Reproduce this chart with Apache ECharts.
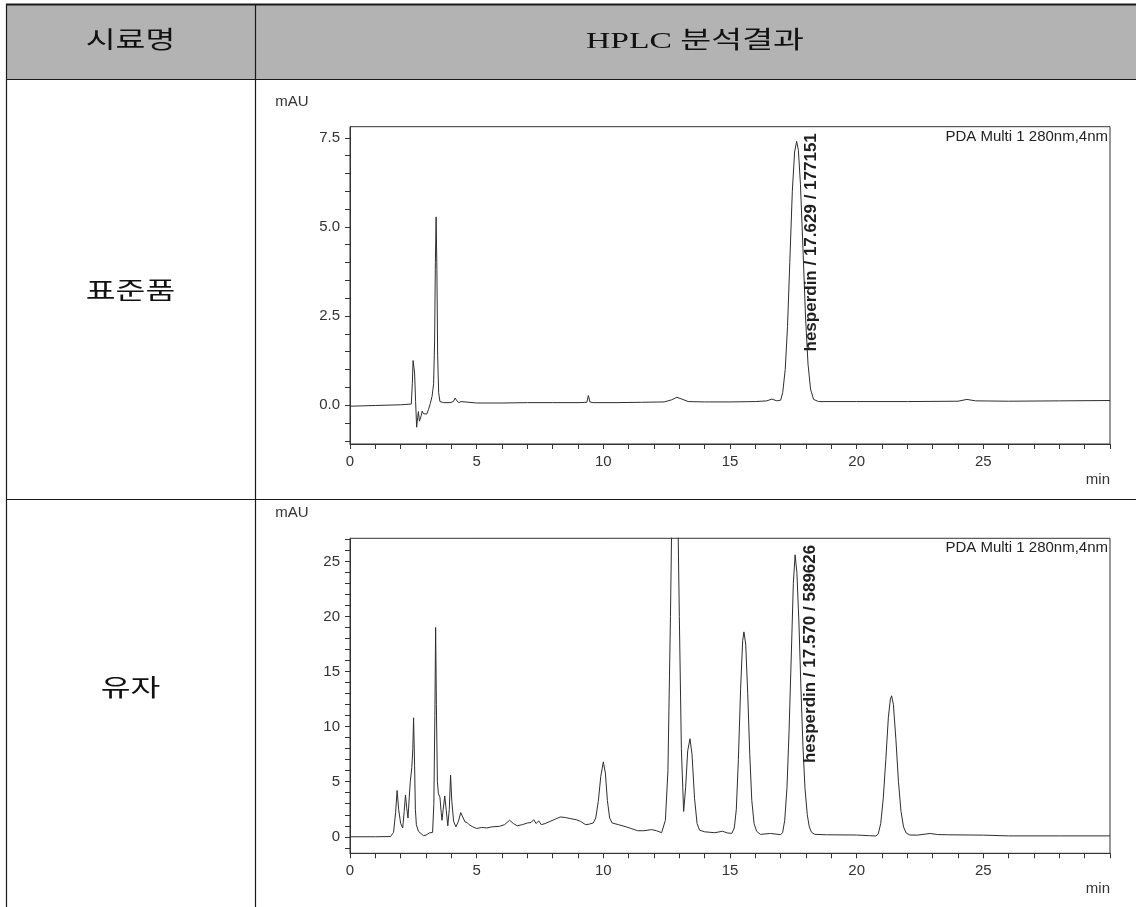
<!DOCTYPE html>
<html>
<head>
<meta charset="utf-8">
<script src="https://cdn.jsdelivr.net/npm/echarts@6/dist/echarts.min.js"></script>
<style>html,body{margin:0;padding:0;background:#fff}#c{width:1136px;height:907px}</style>
</head>
<body>
<div id="c"></div>
<script>
// ---------- data ----------
const headerLabels = ['시료명', 'HPLC 분석결과'];
const sampleNames = ['표준품', '유자'];
const channelLabel = 'PDA Multi 1 280nm,4nm';
const peakLabels = ['hesperdin / 17.629 / 177151', 'hesperdin / 17.570 / 589626'];
const peakTimes = [17.629, 17.570];

// standard (표준품) chromatogram: time (min), signal (mAU)
const stdTime = [0.0, 1.0, 2.0, 2.42, 2.46, 2.49, 2.52, 2.55, 2.59, 2.63, 2.67, 2.70, 2.74, 2.77, 2.81, 2.85, 2.90, 2.96, 3.03, 3.10, 3.17, 3.24, 3.30, 3.34, 3.37, 3.40, 3.43, 3.46, 3.50, 3.55, 3.70, 3.95, 4.08, 4.15, 4.22, 4.30, 4.38, 4.45, 5.0, 6.0, 7.0, 8.0, 9.0, 9.35, 9.41, 9.47, 9.60, 10.5, 11.5, 12.4, 12.7, 12.9, 13.1, 13.35, 14.0, 15.0, 16.0, 16.45, 16.65, 16.85, 17.0, 17.08, 17.18, 17.27, 17.36, 17.46, 17.55, 17.63, 17.70, 17.78, 17.88, 17.98, 18.08, 18.18, 18.30, 18.5, 20.0, 22.0, 24.0, 24.35, 24.7, 26.0, 28.0, 30.0];
const stdSignal = [-0.03, -0.01, 0.01, 0.03, 0.6, 1.25, 1.3, 0.9, 0.1, -0.62, -0.35, -0.18, -0.45, -0.5, -0.3, -0.17, -0.24, -0.27, -0.25, -0.12, 0.05, 0.25, 0.6, 1.8, 4.0, 5.28, 3.8, 1.4, 0.35, 0.1, 0.07, 0.07, 0.1, 0.2, 0.12, 0.07, 0.1, 0.07, 0.06, 0.06, 0.07, 0.07, 0.07, 0.08, 0.27, 0.09, 0.07, 0.07, 0.08, 0.09, 0.15, 0.22, 0.17, 0.1, 0.09, 0.09, 0.1, 0.12, 0.17, 0.12, 0.14, 0.35, 1.0, 2.2, 4.0, 6.0, 7.1, 7.4, 7.15, 6.2, 4.4, 2.5, 1.15, 0.45, 0.16, 0.1, 0.1, 0.1, 0.11, 0.16, 0.12, 0.11, 0.12, 0.13];

// 유자 chromatogram: time (min), signal (mAU)
const yujaTime = [0.0, 1.0, 1.6, 1.72, 1.80, 1.86, 1.92, 2.00, 2.08, 2.14, 2.19, 2.24, 2.29, 2.34, 2.38, 2.44, 2.48, 2.51, 2.55, 2.58, 2.62, 2.70, 2.80, 2.90, 3.00, 3.06, 3.13, 3.20, 3.26, 3.31, 3.35, 3.38, 3.41, 3.45, 3.49, 3.55, 3.60, 3.63, 3.68, 3.74, 3.80, 3.86, 3.92, 3.97, 4.02, 4.09, 4.18, 4.28, 4.37, 4.45, 4.54, 4.62, 4.70, 4.85, 5.0, 5.2, 5.4, 5.6, 5.9, 6.1, 6.3, 6.45, 6.6, 6.8, 7.0, 7.15, 7.25, 7.35, 7.45, 7.55, 7.7, 7.9, 8.1, 8.3, 8.5, 8.7, 8.93, 9.0, 9.1, 9.3, 9.45, 9.6, 9.7, 9.8, 9.9, 10.0, 10.08, 10.16, 10.25, 10.35, 10.6, 10.9, 11.1, 11.35, 11.6, 11.9, 12.1, 12.3, 12.45, 12.55, 12.65, 12.72, 12.82, 12.92, 13.0, 13.08, 13.17, 13.25, 13.33, 13.42, 13.5, 13.6, 13.7, 13.8, 14.0, 14.4, 14.7, 14.9, 15.07, 15.17, 15.25, 15.33, 15.42, 15.5, 15.55, 15.62, 15.7, 15.78, 15.86, 15.95, 16.05, 16.2, 16.6, 17.0, 17.08, 17.16, 17.25, 17.33, 17.42, 17.5, 17.57, 17.64, 17.72, 17.8, 17.88, 17.96, 18.05, 18.13, 18.22, 18.35, 18.8, 19.5, 20.0, 20.5, 20.76, 20.85, 20.95, 21.05, 21.15, 21.25, 21.33, 21.38, 21.45, 21.55, 21.65, 21.75, 21.85, 21.95, 22.1, 22.4, 22.9, 23.2, 23.6, 25.0, 26.0, 28.0, 30.0];
const yujaSignal = [0.0, 0.0, 0.02, 0.4, 2.2, 4.2, 2.5, 1.2, 0.8, 2.3, 3.8, 2.6, 1.7, 3.6, 5.0, 6.3, 8.0, 10.8, 6.5, 2.5, 1.1, 0.5, 0.3, 0.1, 0.15, 0.05, 0.35, 0.2, 0.4, 3.0, 11.0, 19.0, 12.0, 5.0, 3.9, 3.6, 2.2, 1.5, 2.5, 3.7, 2.4, 1.0, 2.5, 5.6, 3.2, 1.4, 0.9, 1.4, 2.2, 1.8, 1.35, 1.3, 1.1, 0.9, 0.75, 0.85, 0.8, 0.9, 0.95, 1.1, 1.5, 1.2, 1.0, 1.1, 1.25, 1.3, 1.55, 1.2, 1.45, 1.1, 1.2, 1.4, 1.6, 1.8, 1.75, 1.65, 1.55, 1.7, 1.4, 1.1, 1.15, 1.25, 1.7, 3.2, 5.5, 6.8, 5.8, 3.3, 1.7, 1.25, 1.1, 0.9, 0.75, 0.55, 0.55, 0.65, 0.55, 0.37, 1.5, 6.0, 20.0, 32.0, 40.0, 33.0, 20.0, 8.0, 2.3, 4.5, 7.8, 8.9, 7.5, 3.5, 1.2, 0.6, 0.45, 0.37, 0.5, 0.35, 0.3, 0.8, 2.5, 7.0, 13.5, 17.8, 18.6, 17.5, 13.0, 7.5, 3.3, 1.2, 0.5, 0.22, 0.3, 0.19, 0.4, 1.5, 4.5, 9.5, 16.5, 23.0, 25.6, 24.0, 19.5, 13.5, 8.2, 4.4, 2.0, 0.9, 0.4, 0.22, 0.18, 0.17, 0.16, 0.1, 0.07, 0.25, 1.2, 3.5, 7.0, 10.8, 12.5, 12.8, 12.0, 8.8, 5.0, 2.3, 0.9, 0.35, 0.16, 0.15, 0.3, 0.2, 0.18, 0.15, 0.08, 0.08, 0.08];

// axis tick labels
const xMin = 0, xMax = 30, xStep = 5;
const y1Range = [-1.09, 7.81];
const y1Labels = [0.0, 2.5, 5.0, 7.5];
const y1Ticks = [-1.0, -0.5, 0.0, 0.5, 1.0, 1.5, 2.0, 2.5, 3.0, 3.5, 4.0, 4.5, 5.0, 5.5, 6.0, 6.5, 7.0, 7.5];
const y2Range = [-1.5, 27.1];
const y2Labels = [0, 5, 10, 15, 20, 25];
const y2Ticks = [-1, 0, 1, 2, 3, 4, 5, 6, 7, 8, 9, 10, 11, 12, 13, 14, 15, 16, 17, 18, 19, 20, 21, 22, 23, 24, 25, 26, 27];

// ---------- chart ----------
const zip = (a, b) => a.map((t, i) => [t, b[i]]);
const chart = echarts.init(document.getElementById('c'));
const AX = "'Liberation Sans', Arial, sans-serif";
const SERIF = "'Liberation Serif', 'DejaVu Serif', 'Noto Sans CJK KR', serif";
const INK = '#333';
const grids = [
  {left: 350, top: 126.7, width: 760, height: 317.3},
  {left: 350, top: 538.3, width: 760, height: 315}
];

function xAxis(gi) {
  return {
    type: 'value', gridIndex: gi, min: xMin, max: xMax, interval: xStep,
    axisLine: {show: true, onZero: false, lineStyle: {color: INK, width: 1}},
    axisTick: {show: true, length: 5, lineStyle: {color: INK}},
    minorTick: {show: true, splitNumber: 5, length: 5, lineStyle: {color: INK}},
    axisLabel: {color: INK, fontSize: 15, fontFamily: AX, margin: 10, showMaxLabel: false},
    splitLine: {show: false}, minorSplitLine: {show: false}
  };
}
function yAxis(gi, range, labels, ticks, dec) {
  return {
    type: 'value', gridIndex: gi, min: range[0], max: range[1],
    axisLine: {show: true, onZero: false, lineStyle: {color: INK, width: 1}},
    axisTick: {show: true, length: 5, customValues: ticks, lineStyle: {color: INK}},
    axisLabel: {customValues: labels, formatter: v => Number(v).toFixed(dec), color: INK, fontSize: 15, fontFamily: AX, margin: 10},
    splitLine: {show: false}
  };
}
function trace(gi, data) {
  return {
    type: 'line', xAxisIndex: gi, yAxisIndex: gi, data: data,
    showSymbol: false, symbol: 'none', clip: true, smooth: false,
    lineStyle: {color: '#2e2e2e', width: 1}, animation: false
  };
}

chart.setOption({
  animation: false,
  grid: grids.map(g => Object.assign({show: true, borderColor: INK, borderWidth: 1, backgroundColor: 'transparent'}, g)),
  xAxis: [xAxis(0), xAxis(1)],
  yAxis: [yAxis(0, y1Range, y1Labels, y1Ticks, 1), yAxis(1, y2Range, y2Labels, y2Ticks, 0)],
  series: [trace(0, zip(stdTime, stdSignal)), trace(1, zip(yujaTime, yujaSignal))]
});

// ---------- table + annotations ----------
const line = (x1, y1, x2, y2, w) => ({type: 'line', shape: {x1, y1, x2, y2}, style: {stroke: '#1a1a1a', lineWidth: w}, z: 10});
const txt = (x, y, text, font, extra, sx) => ({type: 'text', x, y, scaleX: sx || 1, style: Object.assign({text, font, fill: '#111', align: 'center', verticalAlign: 'middle'}, extra || {}), z: 20});

const g = [
  {type: 'rect', shape: {x: 7, y: 5, width: 1129, height: 74}, style: {fill: '#b3b3b3'}, z: 1},
  line(6, 4.5, 1136, 4.5, 2),
  line(6, 79.5, 1136, 79.5, 1.2),
  line(6.5, 4, 6.5, 907, 1.2),
  line(255.5, 4, 255.5, 907, 1.2),
  line(6, 499.5, 1136, 499.5, 1.2),
  txt(130.5, 42, headerLabels[0], "24px " + SERIF, null, 1.35),
  txt(695, 42, headerLabels[1], "24px " + SERIF, null, 1.4),
  txt(130.5, 293, sampleNames[0], "24px " + SERIF, null, 1.35),
  txt(130.5, 690, sampleNames[1], "24px " + SERIF, null, 1.35)
];
grids.forEach((gr, i) => {
  g.push(txt(gr.left - 58, gr.top - 25, 'mAU', "15px " + AX, {fill: INK}));
  g.push(txt(gr.left + gr.width - 2, gr.top + 10, channelLabel, "15px " + AX, {fill: '#222', align: 'right'}));
  g.push(txt(gr.left + gr.width, gr.top + gr.height + 36, 'min', "15px " + AX, {fill: INK, align: 'right'}));
  const p = chart.convertToPixel({gridIndex: i}, [peakTimes[i], 0]);
  g.push({type: 'text', x: p[0] + 15, y: gr.top + 6.5, rotation: Math.PI / 2,
    style: {text: peakLabels[i], font: "bold 17px " + AX, fill: '#1e1e1e', align: 'right', verticalAlign: 'middle'}, z: 20});
});
chart.setOption({graphic: g});
</script>
</body>
</html>
